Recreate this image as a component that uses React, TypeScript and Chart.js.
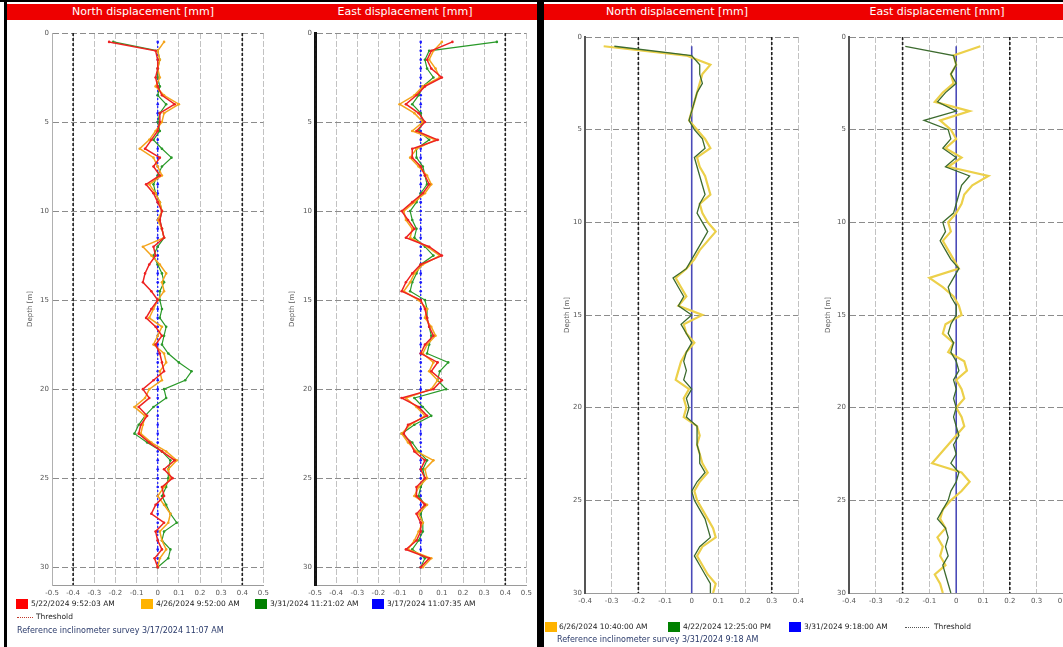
import React, { useEffect, useRef } from 'react';
import { Chart, registerables } from 'chart.js';

Chart.register(...registerables);

const FONT = 'DejaVu Sans';

// ---------- data ----------
const DEPTHS = [
  0.5, 1, 1.5, 2, 2.5, 3, 3.5, 4, 4.5, 5,
  5.5, 6, 6.5, 7, 7.5, 8, 8.5, 9, 9.5, 10,
  10.5, 11, 11.5, 12, 12.5, 13, 13.5, 14, 14.5, 15,
  15.5, 16, 16.5, 17, 17.5, 18, 18.5, 19, 19.5, 20,
  20.5, 21, 21.5, 22, 22.5, 23, 23.5, 24, 24.5, 25,
  25.5, 26, 26.5, 27, 27.5, 28, 28.5, 29, 29.5, 30,
];

const REFERENCE_ZERO = [
  0, 0, 0, 0, 0, 0, 0, 0, 0, 0,
  0, 0, 0, 0, 0, 0, 0, 0, 0, 0,
  0, 0, 0, 0, 0, 0, 0, 0, 0, 0,
  0, 0, 0, 0, 0, 0, 0, 0, 0, 0,
  0, 0, 0, 0, 0, 0, 0, 0, 0, 0,
  0, 0, 0, 0, 0, 0, 0, 0, 0, 0,
];

// Left survey set – North
const L_NORTH_0522 = [
  -0.23, -0.01, 0.0, 0.0, -0.01, 0.0, 0.02, 0.08, 0.01, 0.01,
  0.0, -0.03, -0.06, 0.01, -0.02, 0.01, -0.055, -0.02, 0.0, 0.02,
  0.01, 0.02, 0.03, -0.02, -0.01, -0.04, -0.06, -0.07, -0.03, 0.0,
  -0.03, -0.055, -0.01, 0.02, -0.01, 0.01, 0.02, 0.03, -0.02, -0.07,
  -0.04, -0.09, -0.05, -0.08, -0.09, -0.04, 0.02, 0.08, 0.03, 0.07,
  0.02, 0.03, -0.01, -0.03, 0.03, -0.01, 0.0, 0.02, -0.015, 0.0,
];
const L_NORTH_0426 = [
  0.03, 0.0, 0.01, 0.0, 0.01, -0.01, 0.03, 0.1, 0.03, 0.02,
  -0.01, -0.04, -0.085, -0.02, 0.0, 0.02, -0.04, -0.01, 0.01, 0.02,
  0.0, 0.02, 0.03, -0.07, -0.03, 0.01, 0.04, 0.02, 0.03, 0.0,
  -0.02, -0.04, 0.02, 0.0, -0.02, 0.03, 0.04, 0.01, 0.02, -0.04,
  -0.06, -0.11, -0.06, -0.07, -0.08, -0.03, 0.04, 0.09, 0.05, 0.06,
  0.03, 0.0, 0.03, 0.06, 0.05, 0.01, 0.02, 0.04, 0.01, 0.0,
];
const L_NORTH_0331 = [
  -0.21, 0.0, 0.01, 0.0, 0.0, 0.01, 0.0, 0.04, 0.01, 0.0,
  0.01, -0.02, 0.02, 0.065, 0.02, 0.0, -0.02, -0.01, 0.01, 0.02,
  0.01, 0.02, 0.03, 0.0, -0.02, 0.0, 0.02, 0.03, 0.01, 0.01,
  0.02, 0.01, 0.04, 0.03, 0.02, 0.05, 0.1, 0.16, 0.13, 0.03,
  0.04, -0.02, -0.06, -0.09, -0.11, -0.05, 0.02, 0.06, 0.05, 0.05,
  0.04, 0.02, 0.04, 0.06, 0.09, 0.03, 0.02, 0.06, 0.05, 0.0,
];

// Left survey set – East
const L_EAST_0522 = [
  0.15, 0.05, 0.03, 0.05, 0.1, 0.02, -0.02, -0.07, -0.01, 0.02,
  -0.02, 0.08, -0.04, -0.04, 0.0, 0.02, 0.04, 0.01, -0.04, -0.09,
  -0.06, -0.03, -0.07, 0.04, 0.1, 0.0, -0.04, -0.07, -0.09, 0.0,
  0.02, 0.03, 0.04, 0.06, 0.02, 0.0, 0.08, 0.05, 0.1, 0.06,
  -0.09, -0.01, 0.03, -0.06, -0.08, -0.05, -0.03, 0.02, 0.0, 0.02,
  -0.02, -0.02, 0.02, -0.02, 0.0, 0.0, -0.02, -0.07, 0.04, 0.0,
];
const L_EAST_0426 = [
  0.1, 0.06, 0.04, 0.07, 0.09, 0.01, -0.03, -0.1, -0.03, 0.01,
  -0.04, 0.07, -0.02, -0.05, -0.01, 0.03, 0.05, 0.02, -0.03, -0.08,
  -0.07, -0.04, -0.05, 0.03, 0.09, 0.01, -0.03, -0.05, -0.08, -0.01,
  0.03, 0.02, 0.05, 0.07, 0.03, 0.01, 0.06, 0.04, 0.08, 0.05,
  -0.07, -0.02, 0.02, -0.05, -0.09, -0.06, -0.02, 0.06, 0.02, 0.03,
  -0.01, -0.03, 0.03, -0.01, 0.01, -0.01, -0.03, -0.06, 0.05, 0.01,
];
const L_EAST_0331 = [
  0.36, 0.04, 0.02, 0.03, 0.06, 0.01, -0.01, -0.04, 0.0, 0.01,
  -0.01, 0.04, -0.02, -0.02, 0.01, 0.02, 0.03, 0.0, -0.02, -0.05,
  -0.04, -0.02, -0.03, 0.02, 0.06, 0.0, -0.02, -0.04, -0.05, 0.02,
  0.03, 0.03, 0.04, 0.05, 0.04, 0.03, 0.13, 0.09, 0.08, 0.12,
  -0.03, 0.01, 0.05, -0.03, -0.09, -0.04, -0.01, 0.03, 0.01, 0.02,
  0.0, -0.01, 0.02, 0.0, 0.01, 0.01, -0.01, -0.04, 0.02, 0.0,
];

// Right survey set – North
const R_NORTH_0626 = [
  -0.33, -0.02, 0.07, 0.04, 0.03, 0.02, 0.01, 0.0, -0.01, 0.02,
  0.05, 0.07, 0.02, 0.03, 0.05, 0.06, 0.07, 0.03, 0.04, 0.06,
  0.09, 0.06, 0.03, 0.01, -0.02, -0.06, -0.04, -0.02, -0.05, 0.04,
  -0.03, -0.02, 0.01, -0.02, -0.04, -0.05, -0.06, -0.01, -0.03, -0.02,
  -0.03, 0.02, 0.03, 0.02, 0.03, 0.04, 0.06, 0.03, 0.01, 0.02,
  0.04, 0.06, 0.08, 0.09, 0.04, 0.02, 0.04, 0.06, 0.09, 0.08,
];
const R_NORTH_0422 = [
  -0.29, 0.0, 0.03, 0.03, 0.04, 0.02, 0.01, 0.0, -0.01, 0.01,
  0.04, 0.05, 0.01, 0.02, 0.03, 0.04, 0.05, 0.03, 0.02, 0.04,
  0.06, 0.04, 0.02, 0.0, -0.02, -0.07, -0.05, -0.03, -0.05, 0.0,
  -0.04, -0.02, 0.0, -0.02, -0.03, -0.02, -0.03, 0.0, -0.02, -0.01,
  -0.02, 0.02, 0.02, 0.02, 0.03, 0.03, 0.05, 0.02, 0.0, 0.01,
  0.03, 0.05, 0.06, 0.07, 0.03, 0.01, 0.03, 0.05, 0.07, 0.07,
];

// Right survey set – East
const R_EAST_0626 = [
  0.09, -0.01, 0.0, -0.02, -0.01, -0.05, -0.08, 0.05, -0.06, -0.02,
  0.0, -0.04, 0.02, -0.03, 0.12, 0.06, 0.03, 0.02, 0.0, -0.03,
  -0.02, -0.05, -0.03, -0.01, 0.01, -0.1, -0.05, -0.01, 0.01, 0.02,
  -0.04, -0.05, -0.01, -0.03, 0.03, 0.04, 0.0, 0.02, 0.03, 0.0,
  0.02, 0.03, 0.0, -0.03, -0.06, -0.09, 0.02, 0.05, 0.02, -0.02,
  -0.05, -0.06, -0.04, -0.07, -0.05, -0.06, -0.04, -0.08, -0.06, -0.05,
];
const R_EAST_0422 = [
  -0.19, -0.01, 0.0, -0.02, 0.0, -0.04, -0.07, 0.0, -0.12, -0.03,
  -0.02, -0.05, 0.0, -0.04, 0.05, 0.02, 0.01, 0.0, -0.01, -0.05,
  -0.04, -0.06, -0.04, -0.02, 0.01, -0.01, -0.03, -0.02, 0.0, 0.0,
  -0.02, -0.03, -0.01, -0.02, 0.0, 0.01, -0.01, 0.0, -0.01, 0.0,
  -0.01, 0.0, 0.01, -0.01, 0.0, -0.02, 0.01, 0.0, -0.02, -0.03,
  -0.05, -0.07, -0.04, -0.03, -0.04, -0.03, -0.05, -0.04, -0.03, -0.02,
];

const X_TICKS_LEFT = [-0.5, -0.4, -0.3, -0.2, -0.1, 0, 0.1, 0.2, 0.3, 0.4, 0.5];
const X_TICKS_RIGHT = [-0.4, -0.3, -0.2, -0.1, 0, 0.1, 0.2, 0.3, 0.4];
const Y_TICKS = [0, 5, 10, 15, 20, 25, 30];

const THRESH_L_NORTH = [-0.4, 0.4];
const THRESH_L_EAST = [-0.5, 0.4];
const THRESH_R_NORTH = [-0.2, 0.3];
const THRESH_R_EAST = [-0.2, 0.2];

const LEGEND_LEFT = ['5/22/2024 9:52:03 AM', '4/26/2024 9:52:00 AM', '3/31/2024 11:21:02 AM', '3/17/2024 11:07:35 AM'];
const LEGEND_RIGHT = ['6/26/2024 10:40:00 AM', '4/22/2024 12:25:00 PM', '3/31/2024 9:18:00 AM'];
const REF_LEFT = 'Reference inclinometer survey 3/17/2024 11:07 AM';
const REF_RIGHT = 'Reference inclinometer survey 3/31/2024 9:18 AM';

// ---------- chart component ----------
type Series = {
  label: string;
  values: number[];
  color: string;
  width: number;
  dash?: number[];
  radius: number;
};

type ProfileProps = {
  left: number;
  top: number;
  width: number;
  height: number;
  yAxisWidth: number;
  titlePad: number;
  padTop: number;
  padRight: number;
  xAxisHeight: number;
  xMin: number;
  xMax: number;
  xTicks: number[];
  yMax: number;
  series: Series[];
  thresholds: number[];
  yBorderColor: string;
  yBorderWidth: number;
};

const fmt = (v: number) => (Math.abs(v) < 1e-9 ? '0' : v.toFixed(1));

function Profile(p: ProfileProps) {
  const ref = useRef<HTMLCanvasElement>(null);
  useEffect(() => {
    const datasets: any[] = p.series.map((s) => ({
      label: s.label,
      data: DEPTHS.map((d, i) => ({ x: s.values[i], y: d })),
      showLine: true,
      borderColor: s.color,
      backgroundColor: s.color,
      borderWidth: s.width,
      borderDash: s.dash ?? [],
      pointRadius: s.radius,
      pointBorderWidth: 0,
      pointHoverRadius: 0,
      tension: 0,
    }));
    p.thresholds.forEach((t) =>
      datasets.push({
        label: 'Threshold',
        data: [
          { x: t, y: 0 },
          { x: t, y: p.yMax },
        ],
        showLine: true,
        borderColor: '#1e1e1e',
        borderWidth: 1.6,
        borderDash: [3, 2],
        pointRadius: 0,
      })
    );
    const chart = new Chart(ref.current as HTMLCanvasElement, {
      type: 'scatter',
      data: { datasets },
      options: {
        animation: false,
        responsive: false,
        maintainAspectRatio: false,
        layout: { padding: { top: p.padTop, right: p.padRight, left: 0, bottom: 0 } },
        plugins: { legend: { display: false }, tooltip: { enabled: false } },
        scales: {
          x: {
            type: 'linear',
            min: p.xMin,
            max: p.xMax,
            afterBuildTicks: (sc: any) => {
              sc.ticks = p.xTicks.map((v) => ({ value: v }));
            },
            afterFit: (sc: any) => {
              sc.height = p.xAxisHeight;
            },
            ticks: {
              font: { size: 7, family: FONT },
              color: '#555',
              padding: 4,
              maxRotation: 0,
              autoSkip: false,
              callback: (v: any) => fmt(Number(v)),
            },
            grid: { color: '#c2c2c2', lineWidth: 1, drawTicks: false },
            border: { color: '#9a9a9a', width: 1, dash: [6, 2] },
          },
          y: {
            type: 'linear',
            reverse: true,
            min: 0,
            max: p.yMax,
            afterBuildTicks: (sc: any) => {
              sc.ticks = Y_TICKS.map((v) => ({ value: v }));
            },
            afterFit: (sc: any) => {
              sc.width = p.yAxisWidth;
            },
            title: {
              display: true,
              text: 'Depth [m]',
              font: { size: 7, family: FONT },
              color: '#555',
              padding: { top: p.titlePad, bottom: 0 },
            },
            ticks: {
              font: { size: 7, family: FONT },
              color: '#555',
              padding: 3,
              callback: (v: any) => String(v),
            },
            grid: { color: '#8c8c8c', lineWidth: 1, drawTicks: false },
            border: { color: p.yBorderColor, width: p.yBorderWidth, dash: [6, 3] },
          },
        },
      } as any,
    });
    return () => chart.destroy();
  }, []);
  return (
    <canvas
      ref={ref}
      width={p.width}
      height={p.height}
      style={{ position: 'absolute', left: p.left, top: p.top, width: p.width, height: p.height }}
    />
  );
}

// ---------- colors ----------
const C_RED = '#ee2222';
const C_ORANGE = '#f4a41c';
const C_GREEN = '#2a9a2a';
const C_BLUE = '#1a1aff';
const C_YELLOW = '#ecd04a';
const C_DKGREEN = '#3d6b2f';
const C_REFBLUE = '#4a4ab8';

const txt = (left: number, top: number, size: number, color = '#222'): React.CSSProperties => ({
  position: 'absolute',
  left,
  top,
  fontSize: size,
  fontFamily: FONT,
  color,
  whiteSpace: 'nowrap',
  lineHeight: 1,
});

function Square({ left, top, color }: { left: number; top: number; color: string }) {
  return <div style={{ position: 'absolute', left, top, width: 12, height: 10, background: color }} />;
}

export default function App() {
  const leftSeriesN: Series[] = [
    { label: LEGEND_LEFT[0], values: L_NORTH_0522, color: C_RED, width: 1.5, radius: 1.3 },
    { label: LEGEND_LEFT[1], values: L_NORTH_0426, color: C_ORANGE, width: 1.5, radius: 1.3 },
    { label: LEGEND_LEFT[2], values: L_NORTH_0331, color: C_GREEN, width: 1.2, radius: 1.3 },
    { label: LEGEND_LEFT[3], values: REFERENCE_ZERO, color: C_BLUE, width: 1.2, dash: [2, 2], radius: 1.3 },
  ];
  const leftSeriesE: Series[] = [
    { label: LEGEND_LEFT[0], values: L_EAST_0522, color: C_RED, width: 1.5, radius: 1.3 },
    { label: LEGEND_LEFT[1], values: L_EAST_0426, color: C_ORANGE, width: 1.5, radius: 1.3 },
    { label: LEGEND_LEFT[2], values: L_EAST_0331, color: C_GREEN, width: 1.2, radius: 1.3 },
    { label: LEGEND_LEFT[3], values: REFERENCE_ZERO, color: C_BLUE, width: 1.2, dash: [2, 2], radius: 1.3 },
  ];
  const rightSeriesN: Series[] = [
    { label: LEGEND_RIGHT[1], values: R_NORTH_0422, color: C_DKGREEN, width: 1.3, radius: 0 },
    { label: LEGEND_RIGHT[0], values: R_NORTH_0626, color: C_YELLOW, width: 2.2, radius: 0 },
    { label: LEGEND_RIGHT[2], values: REFERENCE_ZERO, color: C_REFBLUE, width: 1.6, radius: 0 },
  ];
  const rightSeriesE: Series[] = [
    { label: LEGEND_RIGHT[1], values: R_EAST_0422, color: C_DKGREEN, width: 1.3, radius: 0 },
    { label: LEGEND_RIGHT[0], values: R_EAST_0626, color: C_YELLOW, width: 2.2, radius: 0 },
    { label: LEGEND_RIGHT[2], values: REFERENCE_ZERO, color: C_REFBLUE, width: 1.6, radius: 0 },
  ];

  const headerText = (center: number): React.CSSProperties => ({
    position: 'absolute',
    left: center - 90,
    width: 180,
    top: 5,
    textAlign: 'center',
    fontSize: 11,
    fontFamily: FONT,
    color: '#fff',
    lineHeight: '13px',
    whiteSpace: 'nowrap',
  });

  return (
    <div
      style={{
        position: 'absolute',
        left: 0,
        top: 0,
        width: 1063,
        height: 647,
        background: '#fff',
        overflow: 'hidden',
      }}
    >
      {/* frame */}
      <div style={{ position: 'absolute', left: 0, top: 0, width: 1063, height: 2, background: '#000' }} />
      <div style={{ position: 'absolute', left: 4, top: 0, width: 3, height: 647, background: '#000' }} />
      <div style={{ position: 'absolute', left: 537, top: 0, width: 7, height: 647, background: '#000' }} />

      {/* headers */}
      <div style={{ position: 'absolute', left: 7, top: 4, width: 530, height: 16, background: '#ee0000' }} />
      <div style={{ position: 'absolute', left: 544, top: 4, width: 519, height: 16, background: '#ee0000' }} />
      <div style={headerText(143)}>North displacement [mm]</div>
      <div style={headerText(405)}>East displacement [mm]</div>
      <div style={headerText(677)}>North displacement [mm]</div>
      <div style={headerText(937)}>East displacement [mm]</div>

      {/* charts */}
      <Profile
        left={16} top={25} width={257} height={580}
        yAxisWidth={36} titlePad={10} padTop={8} padRight={8} xAxisHeight={20}
        xMin={-0.5} xMax={0.5} xTicks={X_TICKS_LEFT} yMax={31}
        series={leftSeriesN} thresholds={THRESH_L_NORTH}
        yBorderColor="#b0b0b0" yBorderWidth={1}
      />
      <Profile
        left={279} top={25} width={257} height={580}
        yAxisWidth={36} titlePad={9} padTop={8} padRight={8} xAxisHeight={20}
        xMin={-0.5} xMax={0.5} xTicks={X_TICKS_LEFT} yMax={31}
        series={leftSeriesE} thresholds={THRESH_L_EAST}
        yBorderColor="#111" yBorderWidth={3}
      />
      <Profile
        left={555} top={29} width={253} height={584}
        yAxisWidth={30} titlePad={8} padTop={8} padRight={8} xAxisHeight={20}
        xMin={-0.4} xMax={0.4} xTicks={X_TICKS_RIGHT} yMax={30}
        series={rightSeriesN} thresholds={THRESH_R_NORTH}
        yBorderColor="#555" yBorderWidth={2}
      />
      <Profile
        left={819} top={29} width={254} height={584}
        yAxisWidth={30} titlePad={5} padTop={8} padRight={8} xAxisHeight={20}
        xMin={-0.4} xMax={0.4} xTicks={X_TICKS_RIGHT} yMax={30}
        series={rightSeriesE} thresholds={THRESH_R_EAST}
        yBorderColor="#555" yBorderWidth={2}
      />

      {/* left legend */}
      <Square left={16} top={599} color="#ff0000" />
      <div style={txt(31, 600, 7.5)}>{LEGEND_LEFT[0]}</div>
      <Square left={141} top={599} color="#ffb300" />
      <div style={txt(156, 600, 7.5)}>{LEGEND_LEFT[1]}</div>
      <Square left={255} top={599} color="#008000" />
      <div style={txt(270, 600, 7.5)}>{LEGEND_LEFT[2]}</div>
      <Square left={372} top={599} color="#0000ff" />
      <div style={txt(387, 600, 7.5)}>{LEGEND_LEFT[3]}</div>
      <div style={{ position: 'absolute', left: 17, top: 617, width: 16, borderTop: '1.5px dotted #c0392b' }} />
      <div style={txt(36, 613, 7.5)}>Threshold</div>
      <div style={txt(17, 627, 8, '#2a3a6a')}>{REF_LEFT}</div>

      {/* right legend */}
      <Square left={545} top={622} color="#ffb300" />
      <div style={txt(559, 623, 7.5)}>{LEGEND_RIGHT[0]}</div>
      <Square left={668} top={622} color="#008000" />
      <div style={txt(683, 623, 7.5)}>{LEGEND_RIGHT[1]}</div>
      <Square left={789} top={622} color="#0000ff" />
      <div style={txt(804, 623, 7.5)}>{LEGEND_RIGHT[2]}</div>
      <div style={{ position: 'absolute', left: 905, top: 627, width: 24, borderTop: '1.5px dotted #555' }} />
      <div style={txt(934, 623, 7.5)}>Threshold</div>
      <div style={txt(557, 636, 8, '#2a3a6a')}>{REF_RIGHT}</div>
    </div>
  );
}
